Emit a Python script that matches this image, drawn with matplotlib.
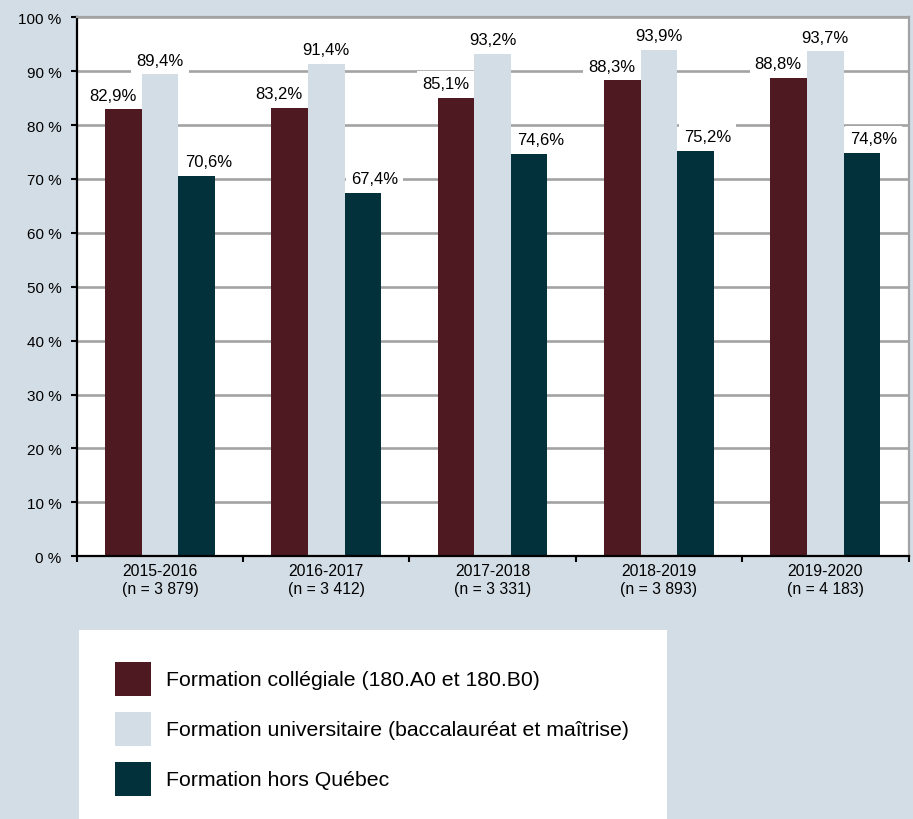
import numpy as np
import matplotlib
matplotlib.use("Agg")
import matplotlib.pyplot as plt
from matplotlib.patches import Rectangle

plt.rcParams["font.family"] = ["Liberation Sans", "DejaVu Sans"]

# taux par cohorte et par type de formation
years = ["2015-2016", "2016-2017", "2017-2018", "2018-2019", "2019-2020"]
n_values = ["3 879", "3 412", "3 331", "3 893", "4 183"]
series = [
    "Formation collégiale (180.A0 et 180.B0)",
    "Formation universitaire (baccalauréat et maîtrise)",
    "Formation hors Québec",
]
collegiale = [82.9, 83.2, 85.1, 88.3, 88.8]
universitaire = [89.4, 91.4, 93.2, 93.9, 93.7]
hors_quebec = [70.6, 67.4, 74.6, 75.2, 74.8]

BG = "#d3dde6"
colors = ["#4e1921", "#d3dde6", "#02303b"]
GRID = "#a3a3a3"

W, H, DPI = 913, 820, 100
fig = plt.figure(figsize=(W / DPI, H / DPI), dpi=DPI, facecolor=BG)
ax = fig.add_axes([76.7 / W, (H - 557.3) / H, (908.5 - 76.7) / W, (557.3 - 18.3) / H])
ax.set_facecolor("white")

x = np.arange(len(years))
bw = 0.22
values = [collegiale, universitaire, hors_quebec]
label_dx = [-7.5, 0, 8.5]  # points: side labels pushed outward
for i, (vals, col) in enumerate(zip(values, colors)):
    bars = ax.bar(x + (i - 1) * bw, vals, width=bw, color=col, linewidth=0, zorder=2)
    for rect, v in zip(bars, vals):
        ax.annotate(f"{v:.1f}%".replace(".", ","),
                    (rect.get_x() + rect.get_width() / 2, v),
                    xytext=(label_dx[i], 7), textcoords="offset points",
                    ha="center", va="baseline", fontsize=12, color="black",
                    bbox=dict(boxstyle="square,pad=0.3", fc="white", ec="none"),
                    zorder=4, annotation_clip=False)

ax.set_xlim(-0.5, len(years) - 0.5)
ax.set_ylim(0, 100)
yt = np.arange(0, 101, 10)
ax.set_yticks(yt)
ax.set_yticklabels([f"{v} %" for v in yt], fontsize=11)
ax.set_xticks(x)
ax.set_xticklabels([f"{y}\n(n = {n})" for y, n in zip(years, n_values)],
                   fontsize=11.3, linespacing=1.2)
ax.set_xticks(np.arange(-0.5, len(years), 1), minor=True)
ax.tick_params(axis="x", which="major", length=0, pad=5)
ax.tick_params(axis="x", which="minor", length=4, width=1.5, direction="out", color="black")
ax.tick_params(axis="y", length=4, width=1.5, direction="out", color="black", pad=7)

ax.yaxis.grid(True, color=GRID, lw=1.9)
ax.set_axisbelow(True)
for side in ("left", "bottom"):
    ax.spines[side].set_color("black")
    ax.spines[side].set_linewidth(1.6)
for side in ("top", "right"):
    ax.spines[side].set_color(GRID)
    ax.spines[side].set_linewidth(1.6)

# légende dans un encadré blanc sous le graphique
lx0, ly0, lx1, ly1 = 79, 631, 667, 820
lax = fig.add_axes([lx0 / W, (H - ly1) / H, (lx1 - lx0) / W, (ly1 - ly0) / H])
lax.set_xlim(0, lx1 - lx0)
lax.set_ylim(ly1 - ly0, 0)
lax.set_facecolor("white")
for s in lax.spines.values():
    s.set_visible(False)
lax.set_xticks([])
lax.set_yticks([])
for k, (name, col) in enumerate(zip(series, colors)):
    top = 32 + k * 50
    lax.add_patch(Rectangle((36, top), 36, 34, facecolor=col, edgecolor="none"))
    lax.text(87, top + 18, name, fontsize=15.3, va="center", ha="left", color="black")

fig.savefig("out.png", dpi=DPI, facecolor=BG)
